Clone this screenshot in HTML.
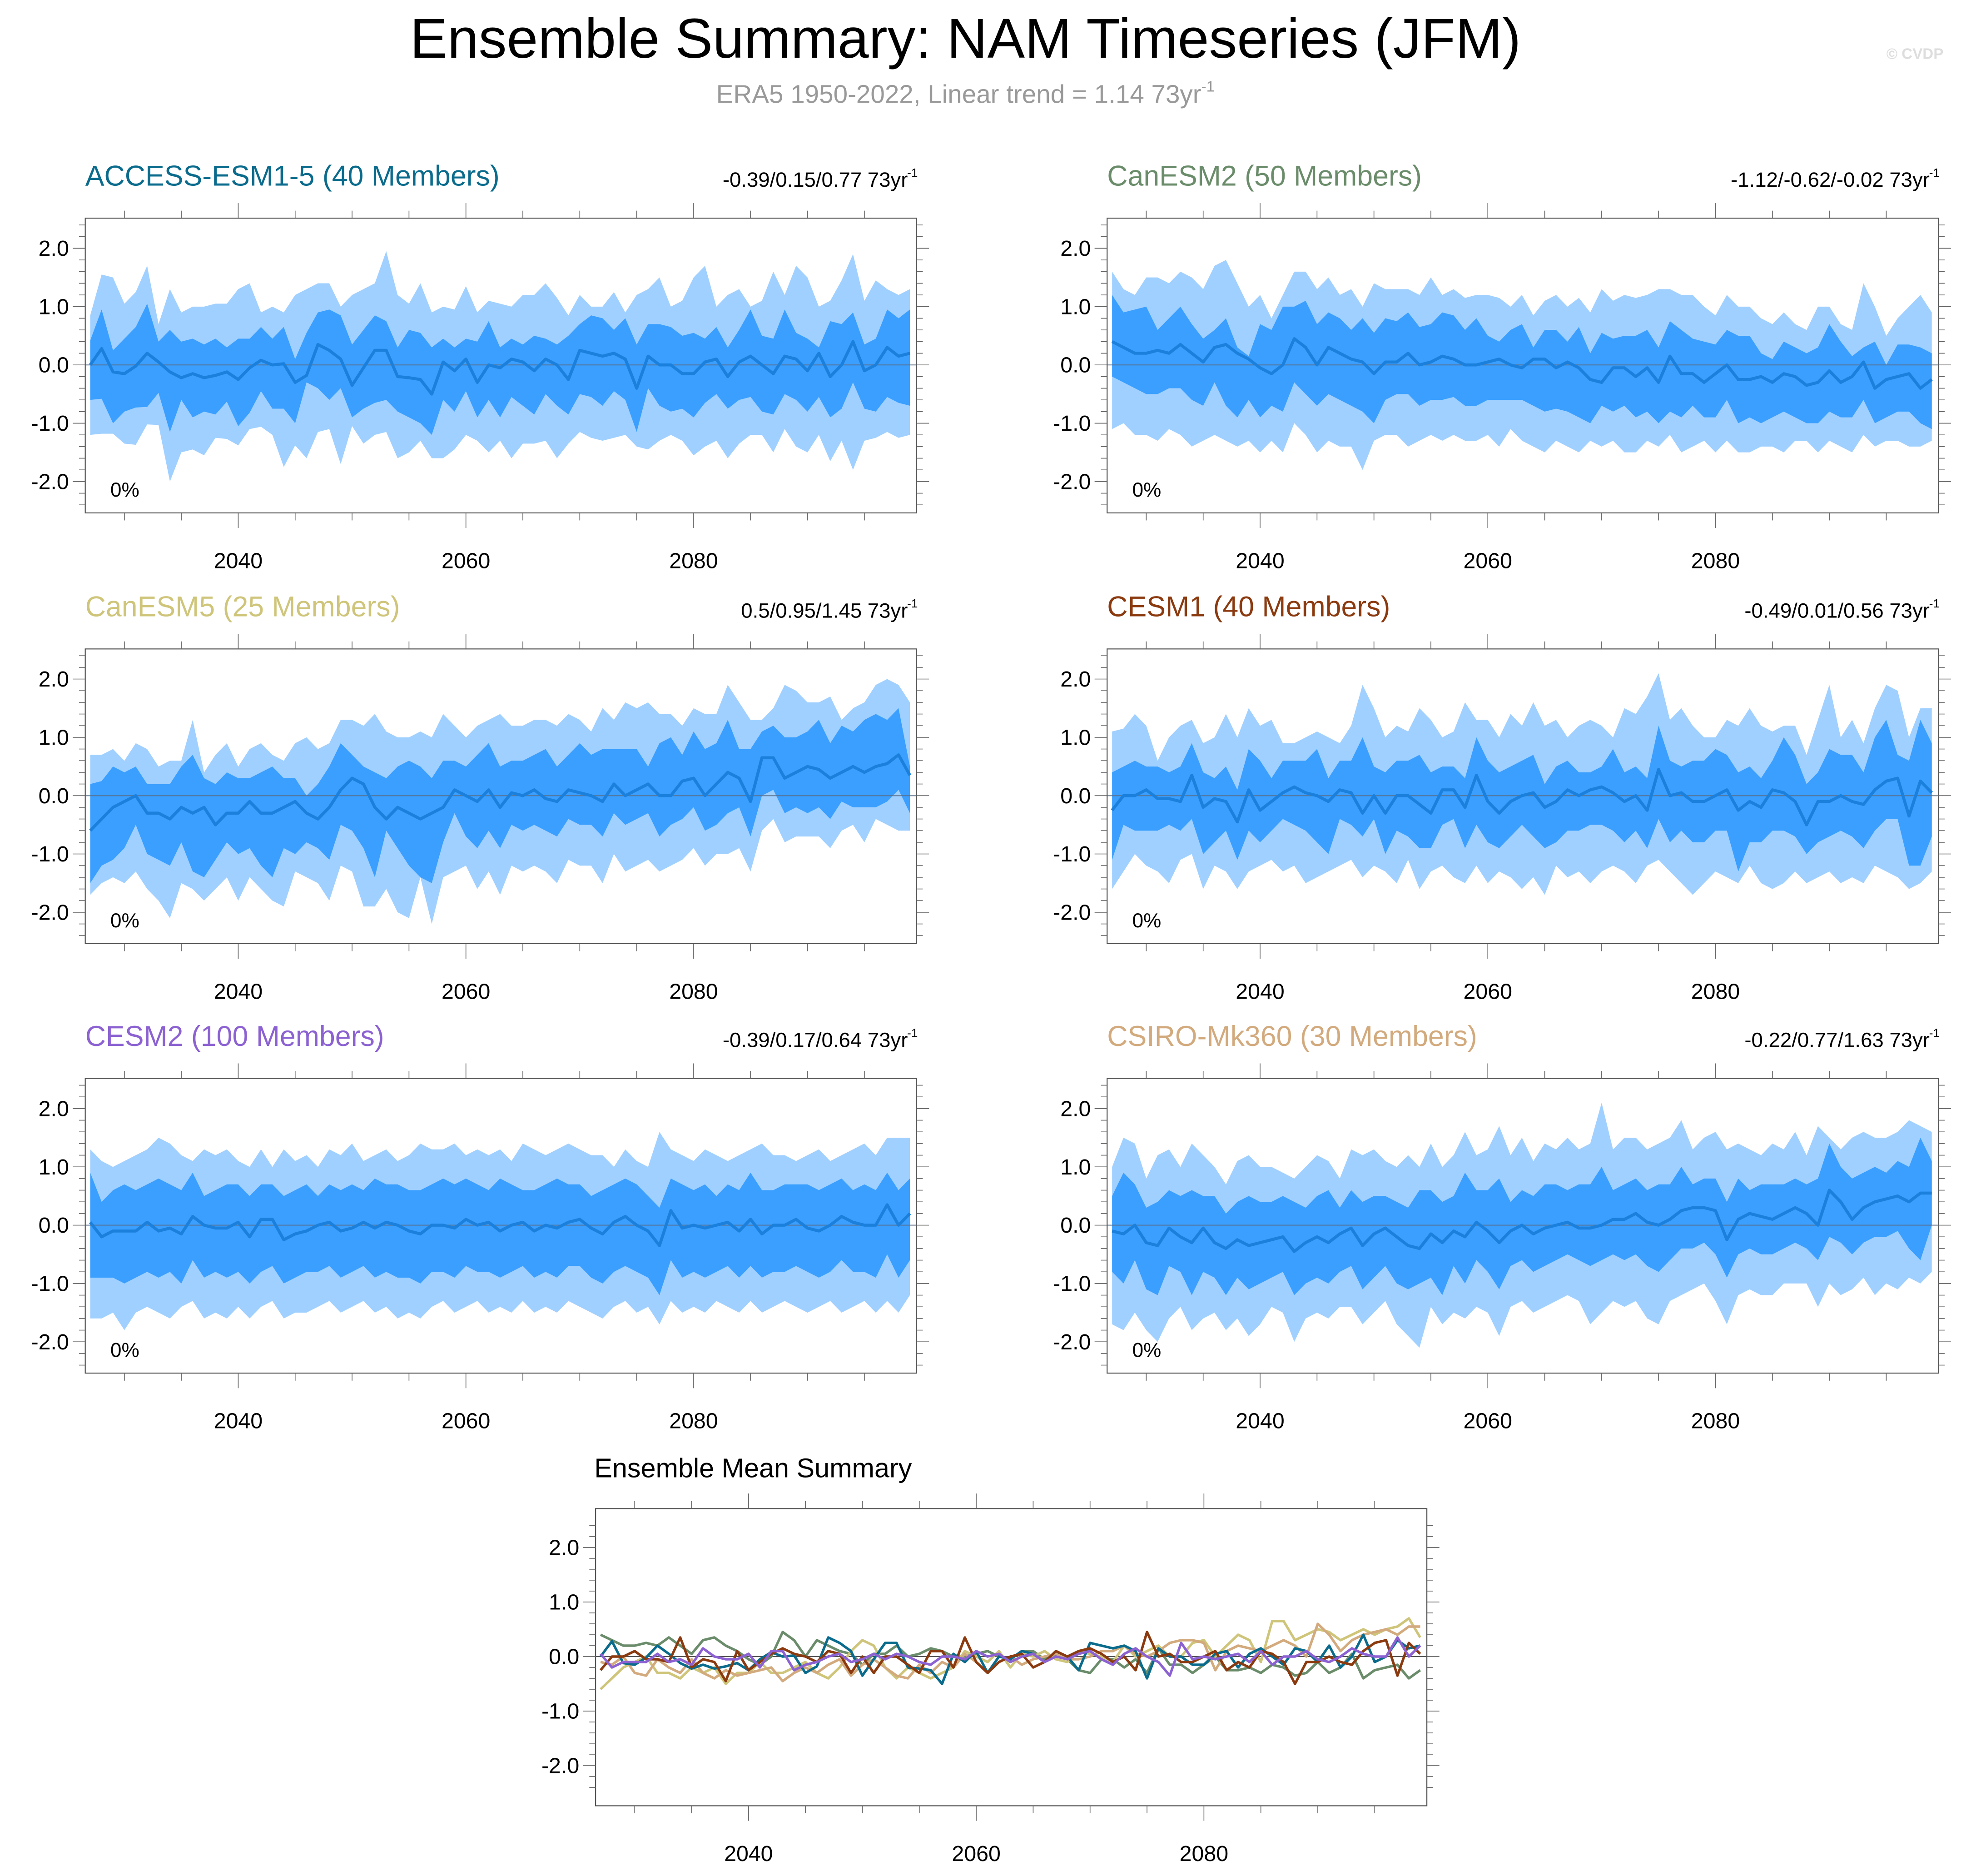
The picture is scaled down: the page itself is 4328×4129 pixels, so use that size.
<!DOCTYPE html>
<html><head><meta charset="utf-8"><style>
html,body{margin:0;padding:0;background:#fff;}
svg{display:block;}
text{font-family:"Liberation Sans",sans-serif;}
</style></head><body>
<svg id="fig" width="4328" height="4129" viewBox="0 0 1568 1496" preserveAspectRatio="none" xmlns="http://www.w3.org/2000/svg">
<rect width="1568" height="1496" fill="#fff"/>
<text x="770" y="46" font-size="44.8" text-anchor="middle" fill="#000">Ensemble Summary: NAM Timeseries (JFM)</text>
<text x="770" y="82" font-size="20.5" text-anchor="middle" fill="#999">ERA5 1950-2022, Linear trend = 1.14 73yr<tspan font-size="12" dy="-9">-1</tspan></text>
<text x="1550" y="47" font-size="12" text-anchor="end" fill="#ddd" font-weight="bold">© CVDP</text>
<g id="plots"></g>
</svg>
<script>
// ---- data (years 2027..2099) ----
const startYear = 2027;
const models = ["ACCESS-ESM1-5 (40 Members)","CanESM2 (50 Members)","CanESM5 (25 Members)","CESM1 (40 Members)","CESM2 (100 Members)","CSIRO-Mk360 (30 Members)"];
const modelColors = ["#0a6b8c","#6a8c6a","#cfc57a","#8b3a0f","#8c62d2","#d2aa7d"];
const trendText = ["-0.39/0.15/0.77 73yr","-1.12/-0.62/-0.02 73yr","0.5/0.95/1.45 73yr","-0.49/0.01/0.56 73yr","-0.39/0.17/0.64 73yr","-0.22/0.77/1.63 73yr"];
const yTicks = [2,1,0,-1,-2];
const yTickLabels = ["2.0","1.0","0.0","-1.0","-2.0"];
const xTicks = [2040,2060,2080];
const xTickLabels = ["2040","2060","2080"];

const mean0 = [0.0,0.28,-0.12,-0.15,-0.02,0.2,0.05,-0.12,-0.22,-0.15,-0.22,-0.18,-0.12,-0.25,-0.05,0.08,0.0,0.02,-0.3,-0.18,0.35,0.25,0.1,-0.35,-0.05,0.25,0.25,-0.2,-0.22,-0.25,-0.5,0.05,-0.1,0.1,-0.3,0.0,-0.05,0.1,0.05,-0.1,0.1,0.0,-0.25,0.25,0.2,0.15,0.2,0.1,-0.4,0.15,0.0,0.0,-0.15,-0.15,0.05,0.1,-0.2,0.05,0.15,0.0,-0.15,0.15,0.1,-0.1,0.2,-0.2,0.0,0.4,-0.1,0.0,0.3,0.15,0.2];
const oHi0 = [0.85,1.55,1.5,1.05,1.25,1.7,0.7,1.3,0.9,1.0,1.0,1.05,1.05,1.3,1.4,0.9,1.0,0.9,1.2,1.3,1.4,1.4,1.0,1.2,1.3,1.4,1.95,1.2,1.05,1.4,0.9,1.0,0.95,1.35,0.9,1.1,1.05,1.0,1.2,1.2,1.4,1.15,0.85,1.2,1.0,1.0,1.25,0.9,1.2,1.3,1.5,1.0,1.1,1.5,1.7,1.0,1.2,1.3,1.0,1.1,1.6,1.2,1.7,1.5,1.0,1.1,1.45,1.9,1.1,1.45,1.3,1.2,1.3];
const iHi0 = [0.42,0.95,0.25,0.45,0.65,1.05,0.4,0.6,0.4,0.45,0.35,0.45,0.3,0.45,0.45,0.65,0.45,0.65,0.1,0.55,0.9,0.95,0.85,0.35,0.6,0.85,0.75,0.3,0.6,0.55,0.3,0.45,0.3,0.45,0.4,0.75,0.3,0.45,0.35,0.5,0.45,0.35,0.5,0.7,0.85,0.8,0.6,0.8,0.35,0.7,0.7,0.65,0.5,0.55,0.45,0.65,0.3,0.6,0.95,0.5,0.45,0.95,0.55,0.45,0.3,0.75,0.7,0.9,0.35,0.45,0.95,0.8,0.95];
const iLo0 = [-0.6,-0.58,-1.0,-0.8,-0.73,-0.72,-0.48,-1.15,-0.6,-0.9,-0.8,-0.85,-0.63,-1.05,-0.82,-0.45,-0.75,-0.75,-1.0,-0.3,-0.4,-0.6,-0.4,-0.9,-0.75,-0.65,-0.6,-0.8,-0.9,-1.0,-1.2,-0.6,-0.8,-0.45,-0.9,-0.6,-0.9,-0.55,-0.7,-0.85,-0.5,-0.7,-0.85,-0.5,-0.55,-0.7,-0.45,-0.6,-1.15,-0.4,-0.7,-0.8,-0.75,-0.9,-0.65,-0.5,-0.75,-0.6,-0.55,-0.8,-0.85,-0.5,-0.6,-0.8,-0.55,-0.9,-0.75,-0.3,-0.75,-0.8,-0.55,-0.65,-0.7];
const oLo0 = [-1.2,-1.18,-1.18,-1.35,-1.37,-1.02,-1.03,-2.0,-1.5,-1.45,-1.55,-1.25,-1.27,-1.38,-1.1,-1.06,-1.2,-1.75,-1.38,-1.6,-1.15,-1.1,-1.7,-1.05,-1.35,-1.2,-1.15,-1.6,-1.5,-1.3,-1.6,-1.6,-1.45,-1.2,-1.3,-1.5,-1.3,-1.6,-1.35,-1.35,-1.3,-1.6,-1.35,-1.15,-1.25,-1.3,-1.25,-1.2,-1.4,-1.45,-1.3,-1.2,-1.3,-1.55,-1.4,-1.3,-1.6,-1.35,-1.2,-1.2,-1.5,-1.1,-1.4,-1.5,-1.2,-1.65,-1.3,-1.8,-1.3,-1.25,-1.15,-1.25,-1.2];

const mean1 = [0.4,0.3,0.2,0.2,0.25,0.2,0.35,0.2,0.05,0.3,0.35,0.2,0.1,-0.05,-0.15,0.0,0.45,0.3,0.0,0.3,0.2,0.1,0.05,-0.15,0.05,0.05,0.2,0.0,0.05,0.15,0.1,0.0,0.0,0.05,0.1,0.0,-0.05,0.1,0.1,-0.05,0.05,-0.05,-0.25,-0.3,-0.05,-0.05,-0.2,-0.05,-0.3,0.15,-0.15,-0.15,-0.3,-0.15,0.0,-0.25,-0.25,-0.2,-0.3,-0.15,-0.2,-0.35,-0.3,-0.1,-0.3,-0.2,0.05,-0.4,-0.25,-0.2,-0.15,-0.4,-0.25];
const oHi1 = [1.6,1.3,1.2,1.5,1.5,1.4,1.6,1.5,1.3,1.7,1.8,1.4,1.0,1.2,0.8,1.2,1.6,1.6,1.3,1.5,1.2,1.3,1.0,1.4,1.3,1.3,1.3,1.2,1.5,1.2,1.3,1.15,1.2,1.2,1.15,1.0,1.2,0.85,1.1,1.2,1.0,1.15,0.9,1.3,1.1,1.2,1.15,1.2,1.3,1.3,1.2,1.2,1.0,0.85,1.2,1.0,1.0,0.8,0.7,0.9,0.7,0.6,1.0,1.0,0.7,0.6,1.4,1.0,0.5,0.8,1.0,1.2,0.9];
const iHi1 = [1.2,0.9,0.95,1.0,0.6,0.8,1.0,0.7,0.45,0.6,0.8,0.3,0.15,0.7,0.6,1.0,1.0,1.1,0.7,0.9,0.8,0.6,0.8,0.55,0.8,0.75,0.9,0.65,0.7,0.9,0.85,0.6,0.8,0.5,0.4,0.6,0.7,0.3,0.6,0.6,0.4,0.65,0.2,0.55,0.45,0.5,0.5,0.6,0.3,0.75,0.6,0.45,0.4,0.35,0.6,0.5,0.5,0.2,0.1,0.4,0.3,0.2,0.3,0.7,0.4,0.15,0.3,0.4,0.0,0.35,0.35,0.3,0.2];
const iLo1 = [-0.2,-0.3,-0.4,-0.5,-0.5,-0.4,-0.4,-0.6,-0.7,-0.3,-0.7,-0.9,-0.6,-0.9,-0.7,-0.8,-0.3,-0.5,-0.7,-0.5,-0.6,-0.7,-0.8,-1.0,-0.6,-0.5,-0.5,-0.7,-0.6,-0.6,-0.55,-0.7,-0.7,-0.6,-0.6,-0.6,-0.6,-0.7,-0.8,-0.75,-0.8,-0.9,-1.0,-0.7,-0.8,-0.7,-0.9,-0.8,-1.0,-0.8,-0.9,-0.7,-0.9,-0.9,-0.6,-1.0,-0.9,-1.0,-0.9,-0.8,-0.9,-1.0,-1.0,-0.8,-0.9,-0.9,-0.6,-1.0,-0.9,-0.8,-0.8,-1.0,-1.1];
const oLo1 = [-1.1,-1.0,-1.2,-1.2,-1.3,-1.1,-1.2,-1.4,-1.3,-1.2,-1.3,-1.4,-1.3,-1.5,-1.3,-1.5,-1.0,-1.2,-1.5,-1.3,-1.4,-1.4,-1.8,-1.3,-1.2,-1.2,-1.4,-1.3,-1.2,-1.3,-1.2,-1.3,-1.3,-1.2,-1.4,-1.1,-1.3,-1.4,-1.5,-1.3,-1.4,-1.5,-1.3,-1.4,-1.3,-1.5,-1.5,-1.3,-1.4,-1.2,-1.5,-1.4,-1.3,-1.5,-1.3,-1.5,-1.5,-1.4,-1.4,-1.5,-1.3,-1.3,-1.5,-1.3,-1.4,-1.5,-1.2,-1.4,-1.3,-1.3,-1.4,-1.4,-1.3];

const mean2 = [-0.6,-0.4,-0.2,-0.1,0.0,-0.3,-0.3,-0.4,-0.2,-0.3,-0.2,-0.5,-0.3,-0.3,-0.1,-0.3,-0.3,-0.2,-0.1,-0.3,-0.4,-0.2,0.1,0.3,0.2,-0.2,-0.4,-0.2,-0.3,-0.4,-0.3,-0.2,0.1,0.0,-0.1,0.1,-0.2,0.05,0.0,0.1,-0.05,-0.1,0.1,0.05,0.0,-0.1,0.2,0.0,0.1,0.2,0.0,0.0,0.25,0.3,0.0,0.2,0.4,0.3,-0.1,0.65,0.65,0.3,0.4,0.5,0.45,0.3,0.4,0.5,0.4,0.5,0.55,0.7,0.35];
const oHi2 = [0.7,0.7,0.8,0.6,0.9,0.8,0.5,0.6,0.6,1.3,0.4,0.7,0.9,0.5,0.8,0.9,0.7,0.6,0.9,1.0,0.8,0.9,1.3,1.3,1.2,1.4,1.1,1.0,1.0,1.1,1.0,1.4,1.2,1.0,1.2,1.3,1.4,1.2,1.2,1.3,1.3,1.2,1.4,1.3,1.1,1.5,1.3,1.6,1.5,1.6,1.4,1.4,1.2,1.5,1.4,1.4,1.9,1.6,1.3,1.3,1.5,1.9,1.8,1.6,1.6,1.7,1.3,1.5,1.6,1.9,2.0,1.9,1.6];
const iHi2 = [0.2,0.25,0.5,0.4,0.5,0.2,0.2,0.2,0.5,0.7,0.3,0.2,0.4,0.3,0.3,0.4,0.5,0.3,0.3,0.0,0.2,0.5,0.9,0.7,0.5,0.4,0.3,0.5,0.6,0.5,0.3,0.6,0.6,0.5,0.7,0.9,0.5,0.6,0.6,0.7,0.8,0.5,0.7,0.9,0.7,0.8,0.8,0.8,0.8,0.5,0.9,1.0,0.7,1.1,0.8,0.9,1.3,0.8,0.8,1.1,1.2,1.0,1.0,1.1,1.3,0.9,1.2,1.1,1.3,1.4,1.3,1.5,0.5];
const iLo2 = [-1.5,-1.2,-1.1,-0.9,-0.5,-1.0,-1.1,-1.2,-0.8,-1.3,-1.4,-1.1,-0.8,-1.0,-0.9,-1.2,-1.4,-0.9,-1.0,-0.8,-0.9,-1.1,-0.5,-0.6,-0.9,-1.4,-0.6,-0.9,-1.2,-1.4,-1.5,-0.8,-0.3,-0.7,-0.9,-0.6,-0.9,-0.5,-0.6,-0.5,-0.6,-0.7,-0.4,-0.5,-0.5,-0.7,-0.3,-0.5,-0.4,-0.3,-0.7,-0.5,-0.4,-0.2,-0.6,-0.5,-0.3,-0.2,-0.7,0.0,0.1,-0.3,-0.2,-0.3,-0.2,-0.4,-0.1,-0.2,-0.2,-0.2,-0.1,0.1,-0.3];
const oLo2 = [-1.7,-1.5,-1.4,-1.5,-1.3,-1.6,-1.8,-2.1,-1.5,-1.6,-1.8,-1.6,-1.4,-1.8,-1.4,-1.6,-1.8,-1.9,-1.3,-1.4,-1.5,-1.8,-1.2,-1.3,-1.9,-1.9,-1.6,-2.0,-2.1,-1.4,-2.2,-1.4,-1.3,-1.2,-1.6,-1.3,-1.7,-1.2,-1.3,-1.2,-1.3,-1.5,-1.1,-1.2,-1.2,-1.5,-1.0,-1.3,-1.2,-1.1,-1.3,-1.2,-1.1,-0.9,-1.2,-1.0,-1.0,-0.9,-1.3,-0.6,-0.4,-0.8,-0.7,-0.7,-0.7,-0.9,-0.6,-0.5,-0.8,-0.4,-0.5,-0.6,-0.6];

const mean3 = [-0.25,0.0,0.0,0.1,-0.05,-0.05,-0.1,0.35,-0.2,-0.05,-0.1,-0.45,0.1,-0.25,-0.1,0.05,0.15,0.05,0.0,-0.1,0.1,0.05,-0.3,0.0,-0.3,0.0,0.0,-0.15,-0.3,0.1,0.1,-0.2,0.35,-0.1,-0.3,-0.1,0.0,0.05,-0.2,-0.1,0.1,0.0,0.1,0.15,0.05,-0.1,0.0,-0.25,0.45,0.0,0.05,-0.1,-0.1,0.0,0.1,-0.25,-0.1,-0.2,0.1,0.05,-0.1,-0.5,-0.1,-0.1,0.0,-0.1,-0.15,0.1,0.25,0.3,-0.35,0.25,0.05];
const oHi3 = [1.1,1.15,1.4,1.2,0.6,1.0,1.2,1.3,0.9,1.0,1.4,1.0,1.5,1.2,1.3,0.9,0.9,1.0,1.1,1.0,0.9,1.2,1.9,1.5,1.0,1.2,1.1,1.5,1.3,1.0,1.1,1.6,1.3,1.3,1.0,1.4,1.2,1.6,1.2,1.3,1.0,1.2,1.3,1.2,1.0,1.5,1.4,1.7,2.1,1.3,1.5,1.2,1.0,1.0,1.3,1.2,1.5,1.2,1.1,1.2,1.2,0.7,1.3,1.9,1.0,1.3,0.9,1.5,1.9,1.8,1.0,1.5,1.5];
const iHi3 = [0.4,0.5,0.6,0.5,0.5,0.4,0.5,0.9,0.4,0.3,0.5,0.1,0.8,0.6,0.3,0.6,0.6,0.6,0.8,0.3,0.6,0.6,1.0,0.5,0.4,0.6,0.6,0.7,0.4,0.5,0.5,0.3,1.0,0.6,0.4,0.5,0.6,0.7,0.2,0.5,0.6,0.4,0.4,0.5,0.8,0.4,0.5,0.3,1.2,0.6,0.5,0.6,0.6,0.8,0.7,0.4,0.5,0.3,0.6,1.0,0.7,0.2,0.4,0.8,0.7,0.7,0.4,1.0,1.3,0.7,0.6,1.3,0.9];
const iLo3 = [-1.1,-0.5,-0.6,-0.6,-0.6,-0.5,-0.6,-0.4,-1.0,-0.8,-0.6,-1.1,-0.6,-0.8,-0.6,-0.4,-0.5,-0.6,-0.8,-1.0,-0.4,-0.5,-0.7,-0.4,-1.0,-0.6,-0.7,-0.9,-0.9,-0.5,-0.4,-0.9,-0.5,-0.8,-0.9,-0.7,-0.5,-0.7,-0.9,-0.8,-0.6,-0.6,-0.5,-0.5,-0.6,-0.8,-0.6,-0.9,-0.4,-0.8,-0.6,-0.8,-0.8,-0.6,-0.6,-1.3,-0.8,-0.8,-0.6,-0.6,-0.7,-1.0,-0.8,-0.7,-0.6,-0.7,-0.9,-0.6,-0.4,-0.4,-1.2,-1.2,-0.7];
const oLo3 = [-1.6,-1.3,-1.0,-1.2,-1.3,-1.5,-1.1,-1.0,-1.6,-1.2,-1.3,-1.6,-1.3,-1.2,-1.1,-1.3,-1.2,-1.5,-1.4,-1.3,-1.2,-1.1,-1.4,-1.2,-1.3,-1.5,-1.1,-1.6,-1.3,-1.2,-1.4,-1.5,-1.2,-1.5,-1.3,-1.4,-1.6,-1.4,-1.7,-1.2,-1.4,-1.3,-1.5,-1.3,-1.2,-1.3,-1.5,-1.2,-1.1,-1.3,-1.5,-1.7,-1.5,-1.3,-1.4,-1.5,-1.2,-1.5,-1.6,-1.5,-1.3,-1.5,-1.4,-1.3,-1.5,-1.4,-1.5,-1.2,-1.3,-1.4,-1.6,-1.5,-1.3];

const mean4 = [0.05,-0.2,-0.1,-0.1,-0.1,0.05,-0.1,-0.05,-0.15,0.15,0.0,-0.05,-0.05,0.05,-0.2,0.1,0.1,-0.25,-0.15,-0.1,0.0,0.05,-0.1,-0.05,0.05,-0.05,0.05,0.0,-0.1,-0.15,0.0,0.0,-0.05,0.1,0.0,0.05,-0.1,0.0,0.05,-0.1,0.0,-0.05,0.05,0.1,-0.05,-0.15,0.05,0.15,0.0,-0.1,-0.35,0.25,-0.05,0.0,-0.05,0.0,0.05,-0.1,0.1,-0.15,0.0,0.0,0.1,-0.05,-0.1,0.0,0.15,0.05,0.0,0.0,0.35,0.0,0.2];
const oHi4 = [1.3,1.1,1.0,1.1,1.2,1.3,1.5,1.4,1.2,1.1,1.3,1.2,1.3,1.1,1.0,1.3,1.0,1.3,1.1,1.2,1.0,1.3,1.2,1.4,1.1,1.2,1.3,1.1,1.2,1.4,1.3,1.3,1.4,1.2,1.3,1.2,1.3,1.1,1.4,1.3,1.2,1.3,1.4,1.3,1.2,1.2,1.0,1.3,1.1,1.0,1.6,1.3,1.2,1.1,1.3,1.2,1.1,1.2,1.3,1.4,1.2,1.2,1.1,1.2,1.3,1.1,1.2,1.3,1.4,1.2,1.5,1.5,1.5];
const iHi4 = [0.9,0.4,0.6,0.7,0.6,0.7,0.8,0.7,0.6,0.9,0.5,0.6,0.7,0.7,0.5,0.7,0.7,0.5,0.6,0.7,0.5,0.7,0.6,0.7,0.6,0.8,0.7,0.7,0.6,0.6,0.7,0.8,0.7,0.8,0.7,0.6,0.8,0.7,0.6,0.6,0.7,0.8,0.7,0.7,0.5,0.6,0.7,0.8,0.7,0.5,0.3,0.8,0.7,0.6,0.7,0.5,0.7,0.6,0.9,0.6,0.6,0.7,0.7,0.7,0.6,0.7,0.8,0.6,0.7,0.6,0.9,0.6,0.8];
const iLo4 = [-0.9,-0.9,-0.9,-1.0,-0.9,-0.8,-0.9,-0.8,-1.0,-0.6,-0.9,-0.8,-0.9,-0.8,-1.0,-0.8,-0.7,-1.0,-0.9,-0.8,-0.8,-0.7,-0.9,-0.8,-0.7,-0.9,-0.8,-0.9,-0.9,-1.0,-0.8,-0.8,-0.9,-0.7,-0.8,-0.8,-0.9,-0.8,-0.7,-0.9,-0.8,-0.9,-0.7,-0.7,-0.9,-1.0,-0.8,-0.7,-0.8,-0.9,-1.2,-0.6,-0.9,-0.8,-0.9,-0.8,-0.7,-0.9,-0.7,-0.9,-0.8,-0.8,-0.7,-0.8,-0.9,-0.8,-0.6,-0.8,-0.8,-0.9,-0.5,-0.9,-0.6];
const oLo4 = [-1.6,-1.6,-1.5,-1.8,-1.5,-1.4,-1.5,-1.6,-1.4,-1.3,-1.6,-1.5,-1.6,-1.4,-1.6,-1.4,-1.3,-1.6,-1.5,-1.5,-1.4,-1.3,-1.5,-1.4,-1.3,-1.5,-1.4,-1.6,-1.5,-1.6,-1.4,-1.3,-1.5,-1.4,-1.3,-1.5,-1.4,-1.5,-1.3,-1.5,-1.4,-1.5,-1.3,-1.4,-1.5,-1.6,-1.4,-1.3,-1.5,-1.4,-1.7,-1.3,-1.5,-1.4,-1.5,-1.3,-1.4,-1.5,-1.3,-1.5,-1.4,-1.3,-1.4,-1.5,-1.4,-1.3,-1.5,-1.4,-1.3,-1.5,-1.3,-1.5,-1.2];

const mean5 = [-0.1,-0.15,0.0,-0.3,-0.35,-0.05,-0.2,-0.3,-0.05,-0.3,-0.4,-0.25,-0.35,-0.3,-0.25,-0.2,-0.45,-0.3,-0.2,-0.3,-0.15,-0.05,-0.35,-0.15,-0.05,-0.2,-0.35,-0.4,-0.15,-0.3,-0.1,-0.2,0.05,-0.1,-0.3,-0.1,0.0,-0.15,-0.05,0.0,0.05,-0.05,-0.05,0.0,0.1,0.1,0.2,0.05,0.0,0.1,0.25,0.3,0.3,0.25,-0.25,0.1,0.2,0.15,0.1,0.2,0.3,0.2,0.0,0.6,0.4,0.1,0.3,0.4,0.45,0.5,0.4,0.55,0.55];
const oHi5 = [1.0,1.5,1.4,0.8,1.2,1.3,1.0,1.4,1.2,1.0,0.7,1.1,1.2,1.0,1.0,0.9,0.8,1.0,1.2,1.1,0.8,1.3,1.2,1.3,1.1,1.0,1.2,1.0,1.4,1.0,1.2,1.6,1.2,1.3,1.7,1.2,1.5,1.1,1.4,1.3,1.5,1.3,1.4,2.1,1.3,1.5,1.5,1.3,1.4,1.5,1.8,1.3,1.5,1.6,1.3,1.4,1.3,1.2,1.4,1.3,1.6,1.2,1.7,1.5,1.3,1.5,1.6,1.5,1.5,1.6,1.8,1.7,1.6];
const iHi5 = [0.5,0.9,0.7,0.3,0.4,0.6,0.5,0.6,0.5,0.5,0.2,0.4,0.5,0.4,0.4,0.5,0.4,0.3,0.5,0.6,0.3,0.6,0.4,0.5,0.5,0.4,0.3,0.6,0.6,0.4,0.5,0.9,0.6,0.6,0.8,0.4,0.6,0.5,0.7,0.7,0.6,0.7,0.7,1.0,0.6,0.7,0.8,0.6,0.7,0.7,1.0,0.7,0.8,0.8,0.4,0.8,0.6,0.7,0.7,0.7,0.8,0.7,0.8,1.4,1.0,0.8,0.9,1.0,0.9,1.1,1.0,1.5,1.1];
const iLo5 = [-0.8,-1.0,-0.6,-1.1,-1.2,-0.7,-0.8,-1.2,-0.8,-0.9,-1.2,-0.9,-1.1,-1.0,-0.9,-0.8,-1.2,-1.0,-0.9,-1.0,-0.8,-0.7,-1.1,-0.9,-0.7,-1.0,-1.1,-1.0,-0.9,-1.2,-0.7,-1.0,-0.6,-0.8,-1.1,-0.7,-0.6,-0.8,-0.7,-0.6,-0.5,-0.6,-0.7,-0.6,-0.5,-0.6,-0.5,-0.7,-0.8,-0.6,-0.4,-0.4,-0.3,-0.5,-0.9,-0.5,-0.4,-0.5,-0.5,-0.4,-0.3,-0.4,-0.6,-0.2,-0.3,-0.5,-0.3,-0.2,-0.2,-0.1,-0.4,-0.6,0.0];
const oLo5 = [-1.7,-1.8,-1.5,-1.8,-2.0,-1.6,-1.4,-1.8,-1.6,-1.5,-1.8,-1.6,-1.9,-1.7,-1.4,-1.5,-2.0,-1.6,-1.5,-1.6,-1.4,-1.4,-1.7,-1.5,-1.3,-1.7,-1.9,-2.1,-1.4,-1.7,-1.5,-1.6,-1.4,-1.5,-1.9,-1.4,-1.3,-1.5,-1.4,-1.3,-1.2,-1.3,-1.7,-1.5,-1.3,-1.4,-1.3,-1.6,-1.7,-1.3,-1.2,-1.1,-1.0,-1.3,-1.7,-1.2,-1.1,-1.2,-1.2,-1.0,-1.0,-1.0,-1.4,-1.0,-1.2,-1.1,-0.9,-1.2,-1.0,-1.1,-0.9,-1.0,-0.8];

const means = [mean0,mean1,mean2,mean3,mean4,mean5];
const outerHi = [oHi0,oHi1,oHi2,oHi3,oHi4,oHi5];
const innerHi = [iHi0,iHi1,iHi2,iHi3,iHi4,iHi5];
const innerLo = [iLo0,iLo1,iLo2,iLo3,iLo4,iLo5];
const outerLo = [oLo0,oLo1,oLo2,oLo3,oLo4,oLo5];

// ---- drawing ----
const NS = "http://www.w3.org/2000/svg";
const root = document.getElementById("plots");
function mk(tag, attrs, parent){
  const e = document.createElementNS(NS, tag);
  for (const k in attrs) e.setAttribute(k, attrs[k]);
  (parent||root).appendChild(e);
  return e;
}
function f(n){return n.toFixed(2);}

function drawAxes(g, P){
  const box = mk("rect",{x:P.x0,y:P.y0,width:P.x1-P.x0,height:P.y1-P.y0,fill:"none",stroke:"#555","stroke-width":0.8},g);
  
  
  for (let v=-2.4; v<=2.41; v+=0.2){
    const y = P.ys(v);
    if (y < P.y0-0.5 || y > P.y1+0.5) continue;
    const major = Math.abs(v - Math.round(v)) < 0.01;
    const L = major ? 10 : 5;
    mk("line",{x1:P.x0-L,x2:P.x0,y1:f(y),y2:f(y),stroke:"#666","stroke-width":0.6},g);
    mk("line",{x1:P.x1,x2:P.x1+L,y1:f(y),y2:f(y),stroke:"#666","stroke-width":0.6},g);
  }
  yTicks.forEach((v,i)=>{
    const t = mk("text",{x:P.x0-13,y:f(P.ys(v)+6),"font-size":17.5,"text-anchor":"end",fill:"#000"},g);
    t.textContent = yTickLabels[i];
    
    
  });
  for (let yr=2030; yr<=2095; yr+=5){
    const x = P.xs(yr);
    const major = yr%20===0;
    const L = major ? 12 : 6;
    mk("line",{x1:f(x),x2:f(x),y1:P.y1,y2:P.y1+L,stroke:"#666","stroke-width":0.6},g);
    mk("line",{x1:f(x),x2:f(x),y1:P.y0-L,y2:P.y0,stroke:"#666","stroke-width":0.6},g);
  }
  xTicks.forEach((v,i)=>{
    const t = mk("text",{x:f(P.xs(v)),y:P.y1+44,"font-size":17.5,"text-anchor":"middle",fill:"#000"},g);
    t.textContent = xTickLabels[i];
    
    
  });
}

function bandPath(P, hi, lo){
  let d = "";
  hi.forEach((v,i)=>{ d += (i?"L":"M")+f(P.xs(startYear+i))+","+f(P.ys(v)); });
  for (let i=lo.length-1;i>=0;i--) d += "L"+f(P.xs(startYear+i))+","+f(P.ys(lo[i]));
  return d+"Z";
}
function linePath(P, arr){
  let d="";
  arr.forEach((v,i)=>{ d += (i?"L":"M")+f(P.xs(startYear+i))+","+f(P.ys(v)); });
  return d;
}

const colX = [[68,731,190],[883,1546,1005]];
const rowZero = [291,634.5,977];
for (let m=0;m<6;m++){
  const c = colX[m%2], zr = rowZero[Math.floor(m/2)];
  const P = {x0:c[0],x1:c[1],y0:zr-117,y1:zr+118,
    xs:(yr)=>c[2]+(yr-2040)*9.08, ys:(v)=>zr-v*46.5};
  const g = mk("g",{});
  
  
  const o = mk("path",{d:bandPath(P,outerHi[m],outerLo[m]),fill:"#a0d0ff"},g);
  
  
  const i = mk("path",{d:bandPath(P,innerHi[m],innerLo[m]),fill:"#3a9fff"},g);
  
  
  mk("line",{x1:P.x0,x2:P.x1,y1:P.ys(0),y2:P.ys(0),stroke:"#5a6f88","stroke-width":0.8,opacity:0.8},g);
  const l = mk("path",{d:linePath(P,means[m]),fill:"none",stroke:"#1a80dc","stroke-width":2.4,"stroke-linejoin":"round"},g);
  
  
  drawAxes(g,P);
  const tt = mk("text",{x:P.x0,y:P.y0-26,"font-size":22.7,fill:modelColors[m]},g);
  tt.textContent = models[m];
  
  
  const tr = mk("text",{x:P.x1-7,y:P.y0-25,"font-size":16.5,"text-anchor":"end",fill:"#000"},g);
  tr.textContent = trendText[m];
  
  
  const sup = mk("text",{x:P.x1+1,y:P.y0-33,"font-size":9.5,"text-anchor":"end",fill:"#000"},g);
  sup.textContent = "-1";
  
  
  const pc = mk("text",{x:P.x0+20,y:P.y1-13,"font-size":16,fill:"#000"},g);
  pc.textContent = "0%";
  
  
}

{
  const P = {x0:475,x1:1138,y0:1203,y1:1440,
    xs:(yr)=>597+(yr-2040)*9.08, ys:(v)=>1321-v*43.5};
  const g = mk("g",{});
  
  
  mk("line",{x1:P.x0,x2:P.x1,y1:P.ys(0),y2:P.ys(0),stroke:"#555","stroke-width":0.7},g);
  const order=[1,2,5,0,3,4];
  order.forEach(m=>{
    const l = mk("path",{d:linePath(P,means[m]),fill:"none",stroke:modelColors[m],"stroke-width":2,"stroke-linejoin":"round"},g);
    
    
  });
  drawAxes(g,P);
  const tt = mk("text",{x:P.x0-1,y:P.y0-25,"font-size":21.5,fill:"#000"},g);
  tt.textContent = "Ensemble Mean Summary";
  
  
}
</script>
</body></html>
